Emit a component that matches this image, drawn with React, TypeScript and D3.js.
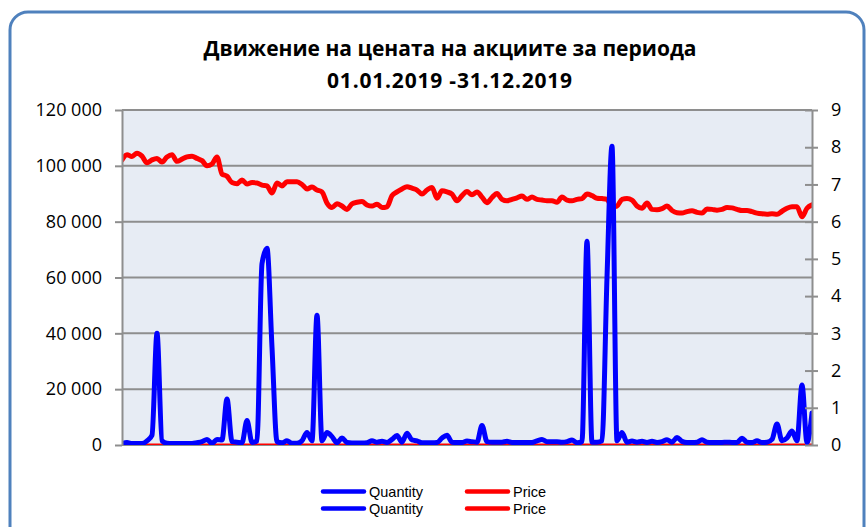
import React, { useEffect, useRef } from "react";
import {
  select,
  scaleLinear,
  line,
  curveMonotoneX,
  axisLeft,
  axisRight,
  formatLocale,
} from "d3";

const titleLines = [
  "Движение на цената на акциите за периода",
  "01.01.2019 -31.12.2019",
];

// daily traded quantity (left axis)
const quantity = [
  500, 900, 500, 500, 500, 1500, 3500, 40000, 1500, 600,
  500, 500, 500, 500, 500, 800, 1200, 2000, 600, 2000,
  1800, 16500, 1200, 1000, 800, 8800, 900, 1500, 65000, 70500,
  35000, 1200, 800, 1500, 600, 600, 1500, 4500, 1500, 46500,
  1500, 4500, 3000, 800, 2500, 900, 700, 700, 700, 800,
  1500, 1000, 1300, 900, 2000, 3400, 1000, 4200, 1800, 1500,
  800, 800, 800, 900, 2500, 3500, 1000, 900, 900, 1400,
  1200, 1000, 7000, 1200, 1000, 1000, 1000, 1300, 900, 900,
  900, 900, 900, 1500, 2000, 1200, 1200, 1200, 1000, 1200,
  1800, 800, 1200, 73000, 1000, 1000, 1500, 60000, 107000, 1500,
  4500, 1000, 1400, 1000, 1300, 900, 1300, 900, 1200, 1900,
  1000, 2700, 1300, 900, 900, 1000, 1900, 1000, 900, 900,
  900, 1000, 900, 900, 2400, 1000, 900, 1500, 900, 1000,
  2000, 7500, 1500, 2500, 5000, 1500, 21500, 800, 11500,
];

// closing price (right axis)
const price = [
  7.66, 7.8, 7.75, 7.84, 7.76, 7.58, 7.66, 7.7, 7.6, 7.74,
  7.8, 7.62, 7.68, 7.74, 7.76, 7.7, 7.64, 7.5, 7.55, 7.74,
  7.28, 7.22, 7.05, 7.02, 7.12, 7.01, 7.05, 7.04, 6.98, 6.96,
  6.77, 7.04, 6.96, 7.07, 7.07, 7.07, 7.0, 6.88, 6.93, 6.85,
  6.8, 6.5, 6.38, 6.48, 6.42, 6.33, 6.48, 6.52, 6.54, 6.45,
  6.42, 6.47, 6.38, 6.4, 6.7, 6.8, 6.88, 6.94, 6.9, 6.85,
  6.74, 6.85, 6.92, 6.63, 6.83, 6.8, 6.74, 6.56, 6.7, 6.81,
  6.72, 6.8, 6.66, 6.51, 6.65, 6.76, 6.6, 6.56, 6.6, 6.64,
  6.69, 6.6, 6.66, 6.6, 6.58, 6.56, 6.56, 6.52, 6.66, 6.58,
  6.56, 6.6, 6.62, 6.74, 6.7, 6.63, 6.62, 6.6, 6.4, 6.42,
  6.6, 6.62, 6.58, 6.42, 6.36, 6.5, 6.33, 6.32, 6.35, 6.42,
  6.3, 6.24, 6.23, 6.27, 6.29, 6.25, 6.23, 6.34, 6.33, 6.31,
  6.33, 6.38, 6.37, 6.33, 6.3, 6.3, 6.27, 6.23, 6.21, 6.2,
  6.21, 6.2, 6.28, 6.36, 6.4, 6.4, 6.13, 6.36, 6.45,
];

const qtyTicks = [0, 20000, 40000, 60000, 80000, 100000, 120000];
const priceTicks = [0, 1, 2, 3, 4, 5, 6, 7, 8, 9];
const legendRows = [
  ["Quantity", "Price"],
  ["Quantity", "Price"],
];

const W = 867;
const H = 527;
const plot = { left: 122, right: 812, top: 110, bottom: 445 };
const font = "'Open Sans', 'Noto Sans', sans-serif";
const legendFont = "'Liberation Sans', Arial, sans-serif";
const gridColor = "#8E8E8E";

const fmt = formatLocale({
  decimal: ",",
  thousands: " ",
  grouping: [3],
  currency: ["", ""],
}).format(",");

const App = () => {
  const ref = useRef<SVGSVGElement>(null);

  useEffect(() => {
    const svg = select(ref.current);

    const x = scaleLinear()
      .domain([0, quantity.length - 1])
      .range([plot.left, plot.right]);
    const yQty = scaleLinear().domain([0, 120000]).range([plot.bottom, plot.top]);
    const yPrice = scaleLinear().domain([0, 9]).range([plot.bottom, plot.top]);

    // gridlines
    svg
      .select(".grid")
      .selectAll("line")
      .data(qtyTicks)
      .join("line")
      .attr("x1", plot.left)
      .attr("x2", plot.right)
      .attr("y1", (d) => yQty(d))
      .attr("y2", (d) => yQty(d))
      .attr("stroke", gridColor)
      .attr("stroke-width", 2);

    const left = axisLeft(yQty)
      .tickValues(qtyTicks)
      .tickSize(7)
      .tickSizeOuter(0)
      .tickPadding(13)
      .tickFormat((d) => fmt(d as number));
    const la = svg
      .select(".y-left")
      .attr("transform", `translate(${plot.left},0)`)
      .call(left as any);
    la.selectAll("path,line").attr("stroke", gridColor).attr("stroke-width", 2);
    la.selectAll("text")
      .attr("font-size", 18)
      .attr("font-family", font)
      .attr("fill", "#000");

    const right = axisRight(yPrice)
      .tickValues(priceTicks)
      .tickSize(6)
      .tickSizeOuter(0)
      .tickPadding(13);
    const ra = svg
      .select(".y-right")
      .attr("transform", `translate(${plot.right},0)`)
      .call(right as any);
    ra.selectAll("path,line").attr("stroke", gridColor).attr("stroke-width", 2);
    ra.selectAll("line").attr("x1", -7);
    ra.selectAll("text")
      .attr("font-size", 18)
      .attr("font-family", font)
      .attr("fill", "#000");

    const qtyLine = line<number>()
      .x((_, i) => x(i))
      .y((d) => yQty(d))
      .curve(curveMonotoneX);
    const priceLine = line<number>()
      .x((_, i) => x(i))
      .y((d) => yPrice(d))
      .curve(curveMonotoneX);

    const series = [
      // price plotted on the primary axis too, so it sits at the bottom
      { d: qtyLine(price), color: "#FF0000", w: 3 },
      { d: priceLine(price), color: "#FF0000", w: 5 },
      { d: qtyLine(quantity), color: "#0000FF", w: 5 },
    ];

    svg
      .select(".series")
      .selectAll("path")
      .data(series)
      .join("path")
      .attr("d", (s) => s.d as string)
      .attr("fill", "none")
      .attr("stroke", (s) => s.color)
      .attr("stroke-width", (s) => s.w)
      .attr("stroke-linejoin", "round")
      .attr("stroke-linecap", "round")
      .attr("clip-path", "url(#plot-clip)");
  }, []);

  return (
    <svg
      ref={ref}
      width={W}
      height={H}
      style={{ position: "absolute", left: 0, top: 0, background: "#fff" }}
    >
      <defs>
        <clipPath id="plot-clip">
          <rect
            x={plot.left}
            y={plot.top - 10}
            width={plot.right - plot.left}
            height={plot.bottom - plot.top + 10}
          />
        </clipPath>
      </defs>
      <rect
        x={10}
        y={12}
        width={854}
        height={540}
        rx={18}
        fill="#fff"
        stroke="#4F81BD"
        strokeWidth={3}
      />
      {titleLines.map((t, i) => (
        <text
          key={i}
          x={450}
          y={56 + i * 32}
          textAnchor="middle"
          fontFamily={font}
          fontWeight="bold"
          fontSize={21}
          letterSpacing={i === 1 ? 0.8 : 0}
          fill="#000"
        >
          {t}
        </text>
      ))}
      <rect
        x={plot.left}
        y={plot.top}
        width={plot.right - plot.left}
        height={plot.bottom - plot.top}
        fill="#E7ECF4"
      />
      <g className="grid" />
      <g className="series" />
      <g className="y-left" />
      <g className="y-right" />
      <g className="legend">
        {legendRows.map((row, r) =>
          row.map((name, c) => {
            const lx = c === 0 ? 323 : 467;
            const ly = 491.5 + r * 17;
            const color = name === "Price" ? "#FF0000" : "#0000FF";
            return (
              <g key={`${r}-${c}`}>
                <line
                  x1={lx}
                  x2={lx + 41}
                  y1={ly}
                  y2={ly}
                  stroke={color}
                  strokeWidth={4.5}
                  strokeLinecap="round"
                />
                <text
                  x={lx + 46}
                  y={ly + 5}
                  fontFamily={legendFont}
                  fontSize={14.5}
                  fill="#000"
                >
                  {name}
                </text>
              </g>
            );
          })
        )}
      </g>
    </svg>
  );
};

export default App;
